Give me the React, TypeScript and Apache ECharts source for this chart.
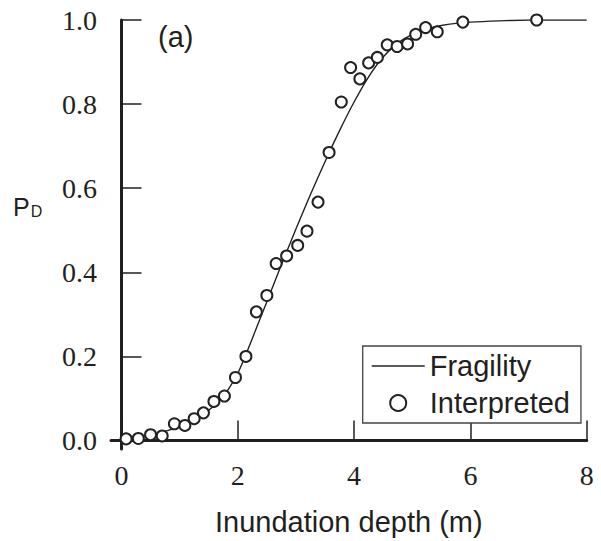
import React, { useEffect, useRef } from "react";
import * as echarts from "echarts";

// Fragility curve
const curveX = [0, 0.25, 0.5, 0.75, 1.0, 1.25, 1.5, 1.75, 1.875, 2.0, 2.125, 2.25, 2.5, 2.75, 3.0, 3.25, 3.5, 3.75, 4.0, 4.25, 4.5, 4.75, 5.0, 5.25, 5.5, 5.75, 6.0, 6.5, 7.0, 8.0];
const curveY = [0.003, 0.007, 0.013, 0.022, 0.034, 0.05, 0.072, 0.105, 0.13, 0.16, 0.2, 0.243, 0.33, 0.418, 0.503, 0.585, 0.663, 0.737, 0.805, 0.865, 0.912, 0.945, 0.966, 0.979, 0.987, 0.992, 0.995, 0.998, 1.0, 1.0];

// Interpreted observations
const obsX = [0.08, 0.29, 0.5, 0.7, 0.91, 1.09, 1.25, 1.41, 1.59, 1.77, 1.96, 2.14, 2.32, 2.5, 2.66, 2.84, 3.03, 3.19, 3.38, 3.57, 3.78, 3.94, 4.1, 4.25, 4.4, 4.57, 4.74, 4.92, 5.06, 5.23, 5.43, 5.87, 7.14];
const obsY = [0.004, 0.005, 0.014, 0.011, 0.04, 0.036, 0.052, 0.066, 0.093, 0.106, 0.15, 0.2, 0.306, 0.345, 0.421, 0.439, 0.464, 0.498, 0.567, 0.685, 0.805, 0.887, 0.86, 0.898, 0.911, 0.941, 0.937, 0.943, 0.966, 0.982, 0.972, 0.995, 1.0];

const xTicks = [0, 2, 4, 6, 8];
const yTicks = [0, 0.2, 0.4, 0.6, 0.8, 1.0];

const INK = "#231f20";

export default function App() {
  const ref = useRef<HTMLDivElement>(null);
  useEffect(() => {
    document.body.style.margin = "0";
    const chart = echarts.init(ref.current!, undefined, { renderer: "svg" });
    chart.setOption({
      animation: false,
      backgroundColor: "#ffffff",
      grid: { left: 111, right: 14.3, top: 20, bottom: 89.8 },
      xAxis: {
        type: "value",
        min: -0.18,
        max: 8,
        name: "Inundation depth (m)",
        nameLocation: "middle",
        nameGap: 58,
        nameTextStyle: { fontFamily: "Liberation Sans", fontSize: 29, color: INK },
        axisLine: { show: true, lineStyle: { color: INK, width: 3 } },
        axisTick: { show: true, inside: true, length: 20, customValues: xTicks, lineStyle: { color: INK, width: 1.5 } },
        axisLabel: { show: true, customValues: xTicks, margin: 12, fontFamily: "Liberation Serif", fontSize: 28, color: INK, formatter: (v: number) => String(v) },
        splitLine: { show: false },
      },
      yAxis: {
        type: "value",
        min: -0.02,
        max: 1.0,
        axisLine: { show: true, lineStyle: { color: INK, width: 3 } },
        axisTick: { show: true, inside: true, length: 20, customValues: yTicks, lineStyle: { color: INK, width: 1.5 } },
        axisLabel: { show: true, customValues: yTicks, margin: 14, fontFamily: "Liberation Serif", fontSize: 28, color: INK, formatter: (v: number) => v.toFixed(1) },
        splitLine: { show: false },
      },
      legend: {
        left: 362.7,
        top: 346,
        orient: "vertical",
        backgroundColor: "#ffffff",
        borderColor: "#444",
        borderWidth: 1.3,
        borderRadius: 0,
        padding: [5, 11, 5, 9],
        itemWidth: 53,
        itemHeight: 16,
        itemGap: 7,
        textStyle: { fontFamily: "Liberation Sans", fontSize: 29, lineHeight: 30, color: INK },
        data: [
          { name: "Fragility", icon: "path://M0,0 L53,0 L53,1.4 L0,1.4 Z", itemStyle: { color: "#222", borderWidth: 0 } },
          { name: "Interpreted", icon: "emptyCircle" },
        ],
      },
      graphic: [
        { type: "text", left: 158, top: 22, style: { text: "(a)", font: "29px 'Liberation Sans'", fill: INK } },
        {
          type: "text",
          left: 13,
          top: 194,
          style: {
            text: "{p|P}{d|D}",
            rich: {
              p: { fontFamily: "Liberation Sans", fontSize: 25, fill: INK, verticalAlign: "bottom" },
              d: { fontFamily: "Liberation Sans", fontSize: 16, fill: INK, padding: [8, 0, 0, 1], verticalAlign: "bottom" },
            },
          },
        },
      ],
      series: [
        {
          name: "Fragility",
          type: "line",
          data: curveX.map((x, i) => [x, curveY[i]]),
          smooth: 0.3,
          symbol: "none",
          showSymbol: false,
          lineStyle: { color: "#222", width: 1.4 },
          itemStyle: { color: "#222" },
          z: 2,
        },
        {
          name: "Interpreted",
          type: "scatter",
          data: obsX.map((x, i) => [x, obsY[i]]),
          symbol: "emptyCircle",
          symbolSize: 11,
          itemStyle: { color: "#222", borderWidth: 1.4, opacity: 1 },
          z: 3,
        },
      ],
    });
    return () => chart.dispose();
  }, []);
  return <div ref={ref} style={{ width: 601, height: 541 }} />;
}
